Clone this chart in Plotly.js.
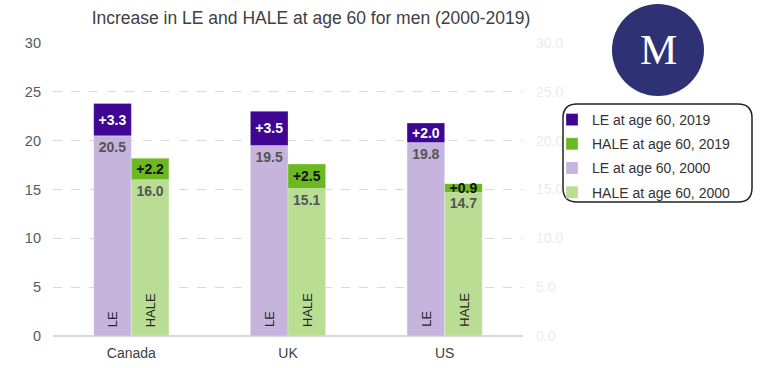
<!DOCTYPE html>
<html>
<head>
<meta charset="utf-8">
<script src="https://cdn.plot.ly/plotly-3.0.1.min.js"></script>
<style>html,body{margin:0;padding:0;background:#fff;}#chart{width:770px;height:368px;}</style>
</head>
<body>
<div id="chart"></div>
<script>
var countries = ['Canada', 'UK', 'US'];
var le2000 = [20.5, 19.5, 19.8];
var leIncrease = [3.3, 3.5, 2.0];
var hale2000 = [16.0, 15.1, 14.7];
var haleIncrease = [2.2, 2.5, 0.9];
var yTicks = [0, 5, 10, 15, 20, 25, 30];
var seriesNames = ['LE at age 60, 2019', 'HALE at age 60, 2019', 'LE at age 60, 2000', 'HALE at age 60, 2000'];
var barTags = ['LE', 'HALE'];
var titleText = 'Increase in LE and HALE at age 60 for men (2000-2019)';

var FONT = 'Liberation Sans, Arial, sans-serif';
var colors = {le19: '#3e0693', hale19: '#6cb820', le00: '#c6b4dd', hale00: '#b9de93'};

var traces = [
  {
    type: 'bar', name: seriesNames[2], x: countries, y: le2000,
    offsetgroup: 'LE', legendgroup: 'c', legendrank: 3,
    marker: {color: colors.le00, line: {color: 'rgba(255,255,255,0.5)', width: 0.5}},
    texttemplate: '<b>%{y:.1f}</b>', textposition: 'inside', insidetextanchor: 'end',
    textangle: 0, constraintext: 'none',
    textfont: {family: FONT, size: 14, color: '#555555'}, hoverinfo: 'skip'
  },
  {
    type: 'bar', name: seriesNames[0], x: countries, y: leIncrease, base: le2000,
    offsetgroup: 'LE', legendgroup: 'a', legendrank: 1,
    marker: {color: colors.le19, line: {color: 'rgba(255,255,255,0.5)', width: 0.5}},
    texttemplate: '<b>+%{y:.1f}</b>', textposition: 'inside', insidetextanchor: 'middle',
    textangle: 0, constraintext: 'none',
    textfont: {family: FONT, size: 14, color: '#ffffff'}, hoverinfo: 'skip'
  },
  {
    type: 'bar', name: seriesNames[3], x: countries, y: hale2000,
    offsetgroup: 'HALE', legendgroup: 'd', legendrank: 4,
    marker: {color: colors.hale00, line: {color: 'rgba(255,255,255,0.5)', width: 0.5}},
    texttemplate: '<b>%{y:.1f}</b>', textposition: 'inside', insidetextanchor: 'end',
    textangle: 0, constraintext: 'none',
    textfont: {family: FONT, size: 14, color: '#555555'}, hoverinfo: 'skip'
  },
  {
    type: 'bar', name: seriesNames[1], x: countries, y: haleIncrease, base: hale2000,
    offsetgroup: 'HALE', legendgroup: 'b', legendrank: 2,
    marker: {color: colors.hale19, line: {color: 'rgba(255,255,255,0.5)', width: 0.5}},
    texttemplate: '<b>+%{y:.1f}</b>', textposition: 'inside', insidetextanchor: 'middle',
    textangle: 0, constraintext: 'none',
    textfont: {family: FONT, size: 14, color: '#111111'}, hoverinfo: 'skip'
  },
  {
    type: 'scatter', x: countries, y: [null, null, null], yaxis: 'y2',
    showlegend: false, hoverinfo: 'skip', mode: 'markers'
  }
];

var L = 53, R = 523, T = 43, B = 336;
function px(x) { return (x - L) / (R - L); }
function py(y) { return (B - y) / (B - T); }

function roundRect(x0, y0, x1, y1, r) {
  var rx = r / (R - L), ry = r / (B - T);
  var a = px(x0), b = px(x1), top = py(y0), bot = py(y1);
  return 'M ' + (a + rx) + ' ' + top +
    ' L ' + (b - rx) + ' ' + top +
    ' Q ' + b + ' ' + top + ' ' + b + ' ' + (top - ry) +
    ' L ' + b + ' ' + (bot + ry) +
    ' Q ' + b + ' ' + bot + ' ' + (b - rx) + ' ' + bot +
    ' L ' + (a + rx) + ' ' + bot +
    ' Q ' + a + ' ' + bot + ' ' + a + ' ' + (bot + ry) +
    ' L ' + a + ' ' + (top - ry) +
    ' Q ' + a + ' ' + top + ' ' + (a + rx) + ' ' + top + ' Z';
}

var annotations = [];
countries.forEach(function (c) {
  [[barTags[0], -19], [barTags[1], 19]].forEach(function (t) {
    annotations.push({
      x: c, y: 0, xref: 'x', yref: 'y', text: t[0], showarrow: false,
      textangle: -90, xshift: t[1], yanchor: 'bottom', yshift: 7,
      font: {family: FONT, size: 13, color: '#262626'}
    });
  });
});
annotations.push({
  x: px(658), y: py(50), xref: 'paper', yref: 'paper', text: 'M', showarrow: false,
  xanchor: 'center', yanchor: 'middle',
  font: {family: 'Liberation Serif, DejaVu Serif, serif', size: 42, color: '#ffffff'}
});

var layout = {
  width: 770, height: 368,
  margin: {l: L, r: 770 - R, t: T, b: 368 - B},
  paper_bgcolor: '#ffffff', plot_bgcolor: '#ffffff',
  font: {family: FONT, color: '#404040'},
  title: {
    text: titleText, font: {family: FONT, size: 17.5, color: '#404040'},
    xref: 'container', yref: 'container', x: 311 / 770, xanchor: 'center',
    y: 1 - 18 / 368, yanchor: 'middle'
  },
  barmode: 'group', bargap: 0.52, bargroupgap: 0,
  xaxis: {
    type: 'category', showgrid: false, showline: false, ticks: '',
    ticklabelstandoff: 7,
    tickfont: {family: FONT, size: 14, color: '#404040'}, fixedrange: true
  },
  yaxis: {
    range: [0, 30], tickvals: yTicks, ticktext: yTicks.map(String),
    showgrid: true, gridcolor: '#d9d9d9', griddash: 'dash', gridwidth: 1,
    zeroline: true, zerolinecolor: '#d9d9d9', zerolinewidth: 2,
    ticks: '', ticklabelstandoff: 11,
    tickfont: {family: FONT, size: 14.5, color: '#595959'}, fixedrange: true
  },
  yaxis2: {
    overlaying: 'y', side: 'right', range: [0, 30], tickvals: yTicks,
    tickformat: '.1f', showgrid: false, zeroline: false, showline: false, ticks: '',
    ticklabelstandoff: 12,
    tickfont: {family: FONT, size: 14, color: '#ececec'}, fixedrange: true
  },
  showlegend: true,
  legend: {
    x: px(552), y: py(104), xanchor: 'left', yanchor: 'top',
    traceorder: 'grouped', tracegroupgap: 3,
    bgcolor: 'rgba(0,0,0,0)', borderwidth: 0,
    font: {family: FONT, size: 14, color: '#333333'}, itemwidth: 30
  },
  shapes: [
    {type: 'circle', xref: 'paper', yref: 'paper',
     x0: px(612), x1: px(704), y0: py(96), y1: py(4),
     fillcolor: '#2e3173', line: {width: 0}},
    {type: 'path', xref: 'paper', yref: 'paper', path: roundRect(563, 104, 752, 202, 14),
     fillcolor: 'rgba(0,0,0,0)', line: {color: '#222222', width: 1.5}}
  ],
  annotations: annotations
};

Plotly.newPlot('chart', traces, layout, {displayModeBar: false, staticPlot: true});
</script>
</body>
</html>
